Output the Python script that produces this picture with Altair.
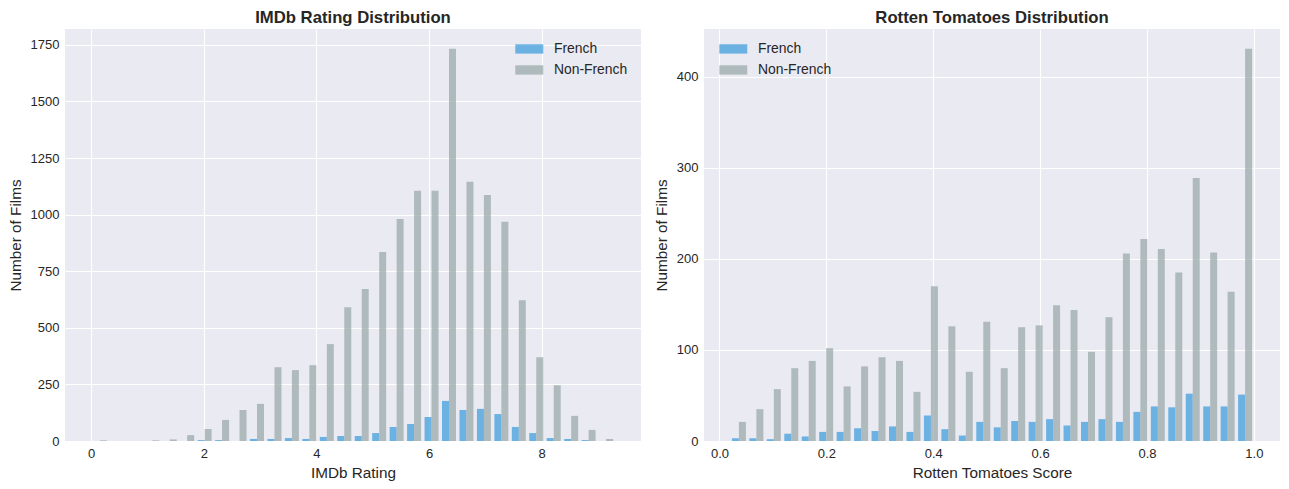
import numpy as np
import pandas as pd
import altair as alt

N_BINS = 30

# IMDb rating histogram (30 bins between min and max rating)
imdb_range = (0.0, 9.3)
imdb_french = [0, 0, 0, 0, 0, 0, 4, 4, 0, 9, 9, 13, 9, 18, 22,
               22, 35, 62, 75, 106, 177, 137, 142, 119, 62, 35, 13, 9, 4, 0]
imdb_non_french = [3, 0, 0, 3, 7, 26, 53, 93, 137, 164, 326, 313, 335, 428, 591,
                   671, 835, 981, 1105, 1105, 1733, 1145, 1087, 968, 622, 370, 246, 111, 49, 9]

# Rotten Tomatoes score histogram
rt_range = (0.02, 1.0)
rt_french = [3, 3, 2, 8, 5, 10, 10, 14, 11, 16, 10, 28, 13, 6, 21,
             15, 22, 21, 24, 17, 21, 24, 21, 32, 38, 37, 52, 38, 38, 51]
rt_non_french = [21, 35, 57, 80, 88, 102, 60, 82, 92, 88, 54, 170, 126, 76, 131,
                 80, 125, 127, 149, 144, 98, 136, 206, 222, 211, 185, 289, 207, 164, 431]

groups = ["French", "Non-French"]
colors = ["#3498db", "#95a5a6"]
FONT = "Liberation Sans"
TEXT = "#262626"
# wide legend swatch drawn to the right of the symbol slot
SWATCH = "M-1,-1H5V1H-1Z"


def hist_frame(rng, french, non_french):
    lo, hi = rng
    w = (hi - lo) / N_BINS
    edges = np.linspace(lo, hi, N_BINS + 1)[:-1]
    rows = []
    # matplotlib-style side by side bars: rwidth 0.8 split between two series
    for name, counts, off in (("French", french, 0.1), ("Non-French", non_french, 0.5)):
        for e, c in zip(edges, counts):
            rows.append({"group": name, "x0": e + off * w, "x1": e + (off + 0.4) * w, "count": c})
    return pd.DataFrame(rows)


def hist_panel(df, title, xtitle, xdomain, xticks, xfmt, ydomain, yticks, orient):
    return (
        alt.Chart(df)
        .mark_bar(opacity=0.7)
        .encode(
            x=alt.X("x0:Q", title=xtitle,
                    scale=alt.Scale(domain=xdomain, nice=False, zero=False),
                    axis=alt.Axis(values=xticks, format=xfmt)),
            x2="x1:Q",
            y=alt.Y("count:Q", title="Number of Films",
                    scale=alt.Scale(domain=ydomain, nice=False),
                    axis=alt.Axis(values=yticks, format="d")),
            y2=alt.datum(0),
            color=alt.Color(
                "group:N",
                scale=alt.Scale(domain=groups, range=colors),
                legend=alt.Legend(
                    title=None, orient=orient, offset=13, padding=0,
                    symbolType=SWATCH, symbolSize=87, symbolOpacity=0.7,
                    symbolStrokeWidth=0, labelOffset=27, rowPadding=6,
                ),
            ),
        )
        .properties(width=576, height=412, title=title)
    )


left = hist_panel(
    hist_frame(imdb_range, imdb_french, imdb_non_french),
    "IMDb Rating Distribution", "IMDb Rating",
    [-0.465, 9.765], [0, 2, 4, 6, 8], "d",
    [0, 1820], list(range(0, 1751, 250)), "top-right",
)
right = hist_panel(
    hist_frame(rt_range, rt_french, rt_non_french),
    "Rotten Tomatoes Distribution", "Rotten Tomatoes Score",
    [-0.029, 1.049], [0.0, 0.2, 0.4, 0.6, 0.8, 1.0], ".1f",
    [0, 452.6], [0, 100, 200, 300, 400], "top-left",
)

chart = (
    alt.hconcat(left, right, spacing=13)
    .resolve_scale(x="independent", y="independent")
    .properties(padding={"left": 0, "top": 2, "right": 0, "bottom": 0})
    .configure(background="white")
    .configure_view(fill="#EAEAF2", strokeWidth=0)
    .configure_axis(
        grid=True, gridColor="white", gridWidth=1.1, domain=False, ticks=False,
        labelFont=FONT, titleFont=FONT, labelFontSize=13, titleFontSize=15.3,
        labelColor=TEXT, titleColor=TEXT, titleFontWeight="normal", labelPadding=6,
    )
    .configure_axisX(titlePadding=5)
    .configure_axisY(titlePadding=6.7)
    .configure_title(font=FONT, fontSize=16.7, fontWeight="bold", color=TEXT,
                     anchor="middle", offset=2)
    .configure_legend(labelFont=FONT, labelFontSize=13.9, labelColor=TEXT)
)

chart.save("out.html", embed_options={"renderer": "svg", "actions": False})
